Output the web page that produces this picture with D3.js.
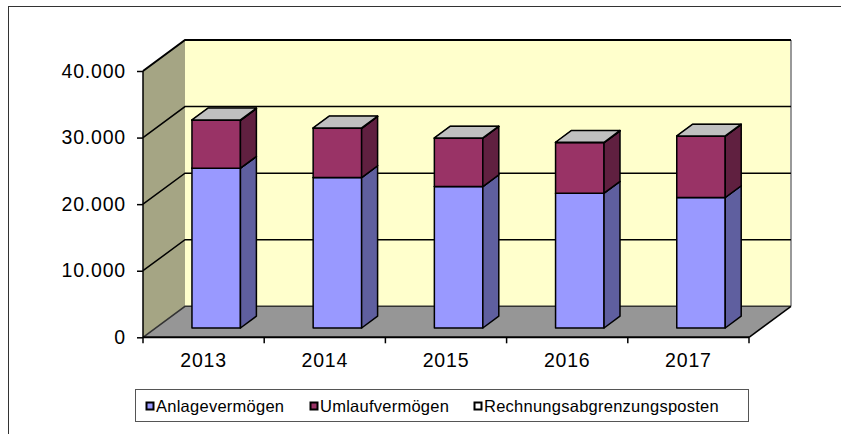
<!DOCTYPE html>
<html>
<head>
<meta charset="utf-8">
<script src="https://cdn.jsdelivr.net/npm/d3@7"></script>
<style>
  body { margin: 0; background: #fff; }
  svg { display: block; font-family: "Liberation Sans", Arial, sans-serif; }
</style>
</head>
<body>
<div id="chart"></div>
<script>
// data
const years = ["2013", "2014", "2015", "2016", "2017"];
const anlage = [24000, 22600, 21250, 20250, 19600];
const umlauf = [7200, 7400, 7250, 7600, 9200];
const rap = [60, 60, 50, 50, 50];
const yTicks = [0, 10000, 20000, 30000, 40000];
const seriesNames = ["Anlagevermögen", "Umlaufvermögen", "Rechnungsabgrenzungsposten"];
const seriesFront = ["#9999ff", "#993366", "#ffffff"];
const seriesSide = ["#5f5f9f", "#602040", "#a0a0a0"];
const seriesTop = ["#7a7acc", "#7a2952", "#c0c0c0"];

const width = 841, height = 434;
const svg = d3.select('#chart').append('svg')
    .attr('width', width)
    .attr('height', height);

// outer frame
svg.append('rect')
    .attr('x', 8.5).attr('y', 6.5)
    .attr('width', 900).attr('height', 500)
    .attr('fill', 'none')
    .attr('stroke', '#333')
    .attr('stroke-width', 1);

const x = d3.scaleBand()
    .domain(years)
    .range([143, 749])
    .padding(0);

const y = d3.scaleLinear()
    .domain([0, 40000])
    .range([337.3, 71]);

// depth of the 3d box
const DX = 42, DY = 31;
const P = (px, v, z) => [px + z * DX, y(v) - z * DY];
const poly = pts => pts.map(p => p.join(',')).join(' ');

const [xa, xb] = x.range();
const yMax = y.domain()[1];

// back wall
svg.append('polygon')
    .attr('points', poly([P(xa, yMax, 1), P(xb, yMax, 1), P(xb, 0, 1), P(xa, 0, 1)]))
    .attr('fill', '#ffffcc');
svg.append('line')
    .attr('x1', P(xb, yMax, 1)[0]).attr('y1', P(xb, yMax, 1)[1])
    .attr('x2', P(xb, 0, 1)[0]).attr('y2', P(xb, 0, 1)[1])
    .attr('stroke', '#999').attr('stroke-width', 2);

// left wall
svg.append('polygon')
    .attr('points', poly([P(xa, yMax, 0), P(xa, yMax, 1), P(xa, 0, 1), P(xa, 0, 0)]))
    .attr('fill', '#a5a584');

// floor
svg.append('polygon')
    .attr('points', poly([P(xa, 0, 0), P(xa, 0, 1), P(xb, 0, 1), P(xb, 0, 0)]))
    .attr('fill', '#969696');

// gridlines on walls
yTicks.forEach(v => {
  svg.append('polyline')
      .attr('points', poly([P(xa, v, 0), P(xa, v, 1), P(xb, v, 1)]))
      .attr('fill', 'none')
      .attr('stroke', v === 0 ? '#333' : '#000')
      .attr('stroke-width', v === yMax ? 2 : 1.5);
});

// floor right edge
svg.append('line')
    .attr('x1', P(xb, 0, 0)[0]).attr('y1', P(xb, 0, 0)[1])
    .attr('x2', P(xb, 0, 1)[0]).attr('y2', P(xb, 0, 1)[1])
    .attr('stroke', '#000').attr('stroke-width', 1.5);

// bars
const z0 = 0.3, z1 = 0.68;
const series = [anlage, umlauf, rap];
const bars = svg.append('g')
    .attr('stroke', '#000')
    .attr('stroke-width', 1.5)
    .attr('stroke-linejoin', 'round');

years.forEach((yr, i) => {
  const x0 = x(yr) + x.bandwidth() * 0.3;
  const x1 = x0 + x.bandwidth() * 0.4;
  let base = 0;
  series.forEach((s, k) => {
    const b = base, t = base + s[i];
    base = t;
    bars.append('polygon')
        .attr('points', poly([P(x0, b, z0), P(x1, b, z0), P(x1, t, z0), P(x0, t, z0)]))
        .attr('fill', seriesFront[k]);
    bars.append('polygon')
        .attr('points', poly([P(x1, b, z0), P(x1, b, z1), P(x1, t, z1), P(x1, t, z0)]))
        .attr('fill', seriesSide[k]);
    bars.append('polygon')
        .attr('points', poly([P(x0, t, z0), P(x1, t, z0), P(x1, t, z1), P(x0, t, z1)]))
        .attr('fill', seriesTop[k]);
  });
});

// axes
const fmt = v => d3.format(',')(v).replace(/,/g, '.');
const yAxis = d3.axisLeft(y).tickValues(yTicks).tickFormat(fmt).tickSize(6).tickPadding(11);
svg.append('g')
    .attr('transform', `translate(${xa},0)`)
    .call(yAxis)
    .call(g => g.selectAll('line').attr('stroke', '#000').attr('stroke-width', 1.5))
    .call(g => g.select('.domain').attr('stroke-width', 1.5).attr('d', `M0,${y(yMax)}V${y(0)}`))
    .selectAll('text')
    .attr('font-size', '19.5px')
    .attr('letter-spacing', '0.8px')
    .attr('fill', '#000');

const xAxis = d3.axisBottom(x).tickSize(0).tickPadding(16);
svg.append('g')
    .attr('transform', `translate(0,${y(0)})`)
    .call(xAxis)
    .call(g => g.select('.domain').attr('stroke-width', 2).attr('d', `M${xa},0H${xb}`))
    .call(g => g.selectAll('.xtick')
        .data(years.map(d => x(d)).concat([xb]))
        .join('line')
        .attr('class', 'xtick')
        .attr('x1', d => d).attr('x2', d => d)
        .attr('y1', 0).attr('y2', 6)
        .attr('stroke', '#000').attr('stroke-width', 1.5))
    .selectAll('text')
    .attr('font-size', '19.5px')
    .attr('letter-spacing', '0.8px')
    .attr('fill', '#000');

// legend
const legend = svg.append('g');
legend.append('rect')
    .attr('x', 135.5).attr('y', 389.5)
    .attr('width', 613).attr('height', 32)
    .attr('fill', '#fff')
    .attr('stroke', '#555');

const legendX = [146, 310, 474];
seriesNames.forEach((name, k) => {
  legend.append('rect')
      .attr('x', legendX[k] + 0.5).attr('y', 402.5)
      .attr('width', 7).attr('height', 7)
      .attr('fill', seriesFront[k])
      .attr('stroke', '#000')
      .attr('stroke-width', 2);
  legend.append('text')
      .attr('x', legendX[k] + 10)
      .attr('y', 411.5)
      .attr('font-size', '16.5px')
      .attr('letter-spacing', '0.25px')
      .text(name);
});
</script>
</body>
</html>
